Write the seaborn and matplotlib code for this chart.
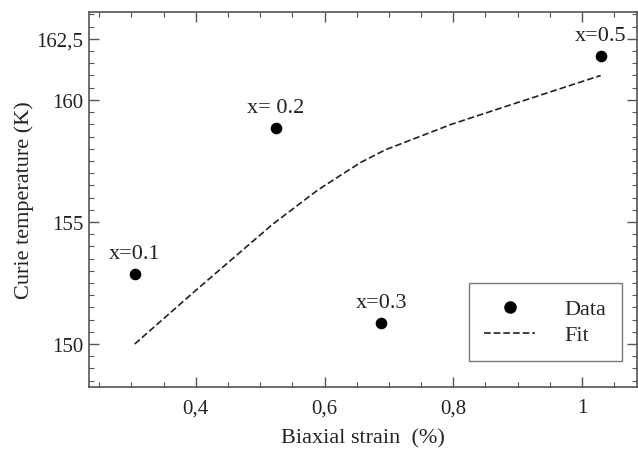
import matplotlib
matplotlib.use("Agg")
import matplotlib.pyplot as plt
import seaborn as sns
import pandas as pd
from matplotlib.ticker import FixedLocator, MultipleLocator
from matplotlib.lines import Line2D

# Data
labels = ["x=0.1", "x= 0.2", "x=0.3", "x=0.5"]
strain = [0.305, 0.524, 0.688, 1.029]
tc = [152.85, 158.85, 150.86, 161.8]

fit_x = [0.305, 0.40, 0.519, 0.589, 0.630, 0.657, 0.694, 0.797, 0.901, 1.029]
fit_y = [150.0, 152.2, 154.9, 156.3, 157.0, 157.45, 157.95, 159.0, 159.9, 161.0]

xticks = [0.4, 0.6, 0.8, 1.0]
xticklabels = ["0,4", "0,6", "0,8", "1"]
yticks = [150, 155, 160, 162.5]
yticklabels = ["150", "155", "160", "162,5"]

sns.set_style("ticks")
plt.rcParams["font.family"] = ["Liberation Serif", "DejaVu Serif"]

fig = plt.figure(figsize=(6.38, 4.52), dpi=100)
ax = fig.add_axes([0.1395, 0.1416, 0.8585, 0.8296])

df_pts = pd.DataFrame({"strain": strain, "tc": tc})
df_fit = pd.DataFrame({"strain": fit_x, "tc": fit_y})

dash = (0, (4, 1.8))
sns.lineplot(data=df_fit, x="strain", y="tc", ax=ax, color="#222222",
             linestyle=dash, linewidth=1.2, sort=True)
sns.scatterplot(data=df_pts, x="strain", y="tc", ax=ax, color="black",
                s=70, edgecolor="black", linewidth=0, zorder=3)

for lab, xv, yv in zip(labels, strain, tc):
    ax.annotate(lab, (xv, yv), xytext=(0, 8), textcoords="offset points",
                ha="center", va="bottom", fontsize=16, color="#222222")

ax.set_xlim(0.234, 1.085)
ax.set_ylim(148.24, 163.6)

ax.xaxis.set_major_locator(FixedLocator(xticks))
ax.set_xticklabels(xticklabels)
ax.yaxis.set_major_locator(FixedLocator(yticks))
ax.set_yticklabels(yticklabels)
ax.xaxis.set_minor_locator(MultipleLocator(0.05))
ax.yaxis.set_minor_locator(MultipleLocator(0.5))

ax.tick_params(which="both", direction="in", top=True, right=True,
               colors="#555555", labelcolor="#222222", labelsize=15)
ax.tick_params(which="major", length=7, width=1)
ax.tick_params(which="minor", length=3.5, width=0.8)
ax.tick_params(axis="x", which="major", pad=8)
ax.tick_params(axis="y", which="major", pad=4)
for sp in ax.spines.values():
    sp.set_visible(True)
    sp.set_color("#555555")
    sp.set_linewidth(1.2)

ax.set_xlabel("Biaxial strain  (%)", fontsize=16, color="#222222", labelpad=8)
ax.set_ylabel("Curie temperature (K)", fontsize=16, color="#222222", labelpad=2)

handles = [
    Line2D([], [], marker="o", color="black", linestyle="none", markersize=8),
    Line2D([], [], color="#222222", linestyle=dash, linewidth=1.2),
]
leg = ax.legend(handles, ["Data", "Fit"], loc="lower right",
                bbox_to_anchor=(0.9726, 0.0693), fontsize=16, frameon=True,
                fancybox=False, edgecolor="#555555", handlelength=2.3,
                borderpad=0.7, labelspacing=0.25, handletextpad=1.3,
                borderaxespad=0)
leg.get_frame().set_linewidth(1.0)

fig.savefig("out.png", dpi=100)
